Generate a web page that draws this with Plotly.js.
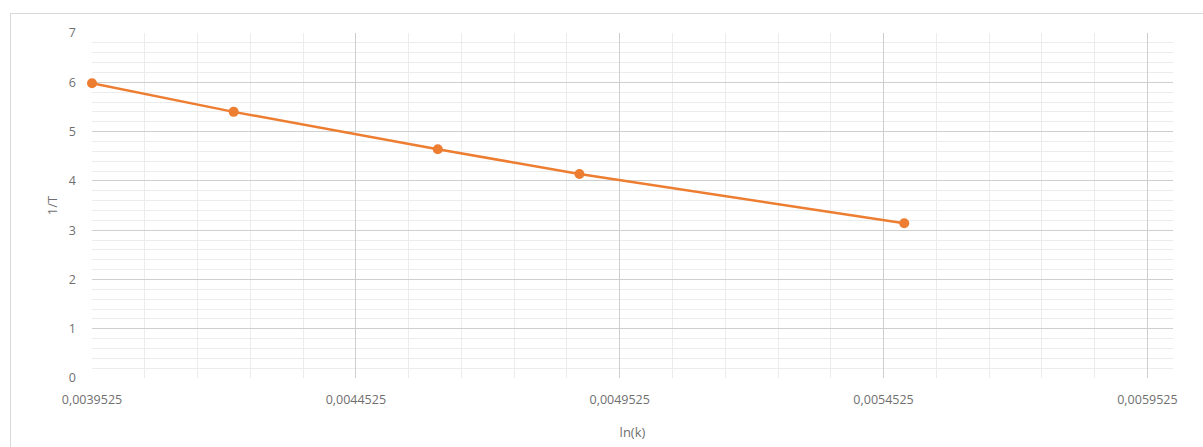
<!DOCTYPE html>
<html>
<head>
<meta charset="utf-8">
<script src="https://cdn.plot.ly/plotly-3.0.1.min.js"></script>
<style>
  html, body { margin: 0; padding: 0; background: #fff; }
  #wrap { position: relative; width: 1203px; height: 447px; overflow: hidden; }
  #chart { position: absolute; left: 0; top: 0; width: 1203px; height: 447px; }
  #frame { position: absolute; left: 10px; top: 13px; width: 1210px; height: 460px;
           border: 1px solid #d9d9d9; pointer-events: none; }
</style>
</head>
<body>
<div id="wrap">
  <div id="chart"></div>
  <div id="frame"></div>
</div>
<script>
// Data
const xValues = [0.0039525, 0.0042209, 0.0046078, 0.0048762, 0.0054917];
const yValues = [5.98, 5.40, 4.64, 4.14, 3.14];

const xTickVals = [0.0039525, 0.0044525, 0.0049525, 0.0054525, 0.0059525];
const xTickText = ['0,0039525', '0,0044525', '0,0049525', '0,0054525', '0,0059525'];
const yTickVals = [0, 1, 2, 3, 4, 5, 6, 7];
const yTickText = ['0', '1', '2', '3', '4', '5', '6', '7'];

const xTitle = 'ln(k)';
const yTitle = '1/T';

const trace = {
  x: xValues,
  y: yValues,
  type: 'scatter',
  mode: 'lines+markers',
  line: { color: '#ED7D31', width: 2.5 },
  marker: { color: '#ED7D31', size: 10 },
  showlegend: false,
  cliponaxis: false
};

const fam = 'Open Sans, Liberation Sans, sans-serif';
const tickFont = { family: fam, size: 12.5, color: '#6f6f6f' };
const titleFont = { family: fam, size: 13, color: '#6f6f6f' };

const layout = {
  width: 1203,
  height: 447,
  margin: { l: 92, r: 30, t: 33, b: 69 },
  paper_bgcolor: '#ffffff',
  plot_bgcolor: '#ffffff',
  font: tickFont,
  xaxis: {
    range: [0.0039525, 0.0060010],
    tickmode: 'array',
    tickvals: xTickVals,
    ticktext: xTickText,
    showgrid: true,
    gridcolor: '#cfcfcf',
    gridwidth: 1,
    zeroline: false,
    showline: false,
    ticks: '',
    ticklabelstandoff: 12,
    tickfont: tickFont,
    minor: { dtick: 0.0001, tick0: 0.0039525, showgrid: true, gridcolor: '#ececec', gridwidth: 1 },
    title: { text: xTitle, font: titleFont, standoff: 21 },
    automargin: false
  },
  yaxis: {
    range: [0, 7],
    tickmode: 'array',
    tickvals: yTickVals,
    ticktext: yTickText,
    showgrid: true,
    gridcolor: '#cfcfcf',
    gridwidth: 1,
    zeroline: false,
    showline: false,
    ticks: '',
    ticklabelstandoff: 15,
    tickfont: tickFont,
    minor: { dtick: 0.2, tick0: 0, showgrid: true, gridcolor: '#ececec', gridwidth: 1 },
    title: { text: yTitle, font: titleFont, standoff: 8 },
    automargin: false
  }
};

Plotly.newPlot('chart', [trace], layout, { displayModeBar: false, staticPlot: true });
</script>
</body>
</html>
